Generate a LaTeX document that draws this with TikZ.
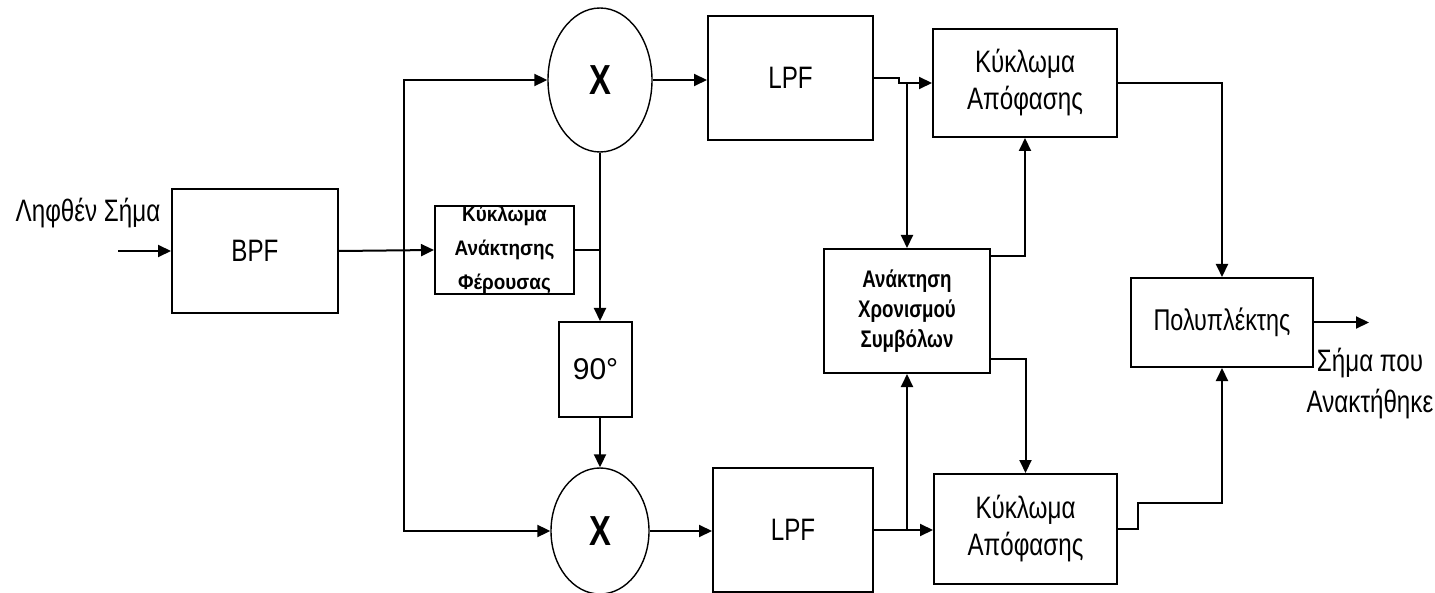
\documentclass[tikz,border=0pt]{standalone}
\usepackage{fontspec}
\setmainfont{Liberation Sans}[FakeStretch=0.78]
\newfontfamily\degfont{Liberation Sans}
\newfontfamily\widefont{Liberation Sans}[FakeStretch=0.9]
\usetikzlibrary{arrows.meta,shapes.geometric,calc}

\begin{document}
\begin{tikzpicture}[x=0.5pt,y=-0.5pt,
  blk/.style={draw,line width=1pt,inner sep=0pt,align=center},
  mult/.style={draw,ellipse,line width=0.7pt,inner sep=0pt,
    font=\bfseries\fontsize{21}{21}\selectfont},
  wire/.style={line width=1pt},
  arr/.style={wire,-{Triangle[length=6.5pt,width=6pt]}},
  bigtxt/.style={font=\fontsize{15.5}{18.5}\selectfont},
  midtxt/.style={font=\fontsize{15}{18.5}\selectfont},
  smalltxt/.style={font=\bfseries\fontsize{12}{15}\selectfont},
  tinytxt/.style={font=\widefont\bfseries\fontsize{10.5}{17}\selectfont},
]
\useasboundingbox (0,0) rectangle (1435,593);

% blocks
\node[blk,bigtxt,minimum width=83pt,minimum height=62pt] (bpf) at (255,251) {BPF};
\node[blk,tinytxt,minimum width=69.5pt,minimum height=44pt] (car) at (504.5,250)
  {Κύκλωμα\\Ανάκτησης\\Φέρουσας};
\node[mult,minimum width=52pt,minimum height=72pt] (umul) at (600,80) {X};
\node[mult,minimum width=49pt,minimum height=63pt] (lmul) at (600,531) {X};
\node[blk,minimum width=36.5pt,minimum height=47.5pt,
  font=\degfont\fontsize{15}{15}\selectfont] (ninety) at (595.5,369.5) {90°};
\node[blk,bigtxt,minimum width=82.5pt,minimum height=62pt] (ulpf) at (790.5,78) {LPF};
\node[blk,bigtxt,minimum width=80pt,minimum height=62pt] (llpf) at (793,530) {LPF};
\node[blk,bigtxt,minimum width=92pt,minimum height=54pt] (udec) at (1025,83)
  {Κύκλωμα\\Απόφασης};
\node[blk,bigtxt,minimum width=91.5pt,minimum height=55pt] (ldec) at (1025.5,529)
  {Κύκλωμα\\Απόφασης};
\node[blk,smalltxt,minimum width=83pt,minimum height=62pt] (tim) at (907,311)
  {Ανάκτηση\\Χρονισμού\\Συμβόλων};
\node[blk,midtxt,minimum width=91pt,minimum height=44.5pt] (mux) at (1222,322.5)
  {Πολυπλέκτης};

% free ends and labels
\coordinate (in) at (118,251);
\coordinate (out) at ($(mux.east)+(55,0)$);
\coordinate (split) at (404,251);
\node[font=\fontsize{15.5}{18.5}\selectfont] (inlbl) at (88,213) {Ληφθέν Σήμα};
\node[align=center,font=\fontsize{15.5}{20.5}\selectfont] (outlbl) at (1370,384)
  {Σήμα που\\Ανακτήθηκε};

% input side
\draw[arr] (in) -- (bpf.west);
\draw[arr] (bpf.east) -- (car.west);
\draw[arr] (split) |- (umul.west);
\draw[arr] (split) |- (lmul.west);

% carrier and quadrature branch
\draw[wire] (car.east) -- (car.east -| umul.south);
\draw[arr] (umul.south) -- (umul.south |- ninety.north);
\draw[arr] (ninety.south -| lmul.north) -- (lmul.north);

% mixers to filters
\draw[arr] (umul.east) -- (umul.east -| ulpf.west);
\draw[arr] (lmul.east) -- (lmul.east -| llpf.west);

% filters to decision circuits, with taps to the timing recovery
\draw[arr] (ulpf.east) -- ++(25,0) |- (udec.west);
\draw[arr] (llpf.east) -- (llpf.east -| ldec.west);
\draw[arr] (tim.north |- udec.west) -- (tim.north);
\draw[arr] (tim.south |- llpf.east) -- (tim.south);

% timing to decision circuits
\draw[arr] ($(tim.north east)+(0,8)$) -| (udec.south);
\draw[arr] ($(tim.south east)+(0,-15)$) -| (ldec.north);

% decision circuits to multiplexer
\draw[arr] (udec.east) -| (mux.north);
\draw[arr] (ldec.east) -- ++(20,0) -- ++(0,-26) -| (mux.south);
\draw[arr] (mux.east) -- (out);
\end{tikzpicture}
\end{document}
